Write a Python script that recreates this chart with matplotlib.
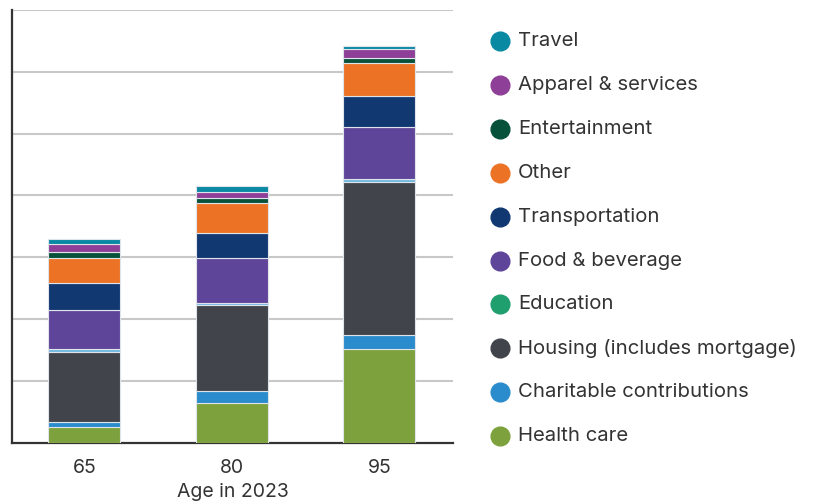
import matplotlib
matplotlib.use("Agg")
import matplotlib.pyplot as plt
import numpy as np

plt.rcParams['font.family'] = ['Inter', 'DejaVu Sans']

ages = ["65", "80", "95"]
categories = ["Health care", "Charitable contributions", "Housing (includes mortgage)",
              "Education", "Food & beverage", "Transportation", "Other",
              "Entertainment", "Apparel & services", "Travel"]
health_care = [2.5, 6.5, 15.1]
charitable = [0.9, 1.8, 2.3]
housing = [11.2, 14.0, 24.8]
education = [0.5, 0.3, 0.4]
food = [6.3, 7.2, 8.5]
transportation = [4.5, 4.05, 5.0]
other = [4.0, 4.9, 5.3]
entertainment = [0.9, 0.9, 0.86]
apparel = [1.3, 0.9, 1.4]
travel = [0.9, 0.9, 0.5]
series = [health_care, charitable, housing, education, food, transportation,
          other, entertainment, apparel, travel]
colors = ["#7da13c", "#2a8ccc", "#41454b", "#1f9e6e", "#5f4599", "#123872",
          "#ec7325", "#07513a", "#8e3f97", "#0a89a3"]
bar_colors = list(colors)
bar_colors[3] = "#6fb8e0"

fig = plt.figure(figsize=(8.13, 5.03), dpi=100)
ax = fig.add_axes([12/813, (503-442.7)/503, (453-12)/813, (442.7-10)/503])

x = np.arange(len(ages))
bottom = np.zeros(len(ages))
for vals, c in zip(series, bar_colors):
    v = np.array(vals)
    ax.bar(x, v, width=0.49, bottom=bottom, color=c, edgecolor="#dfe3ea",
           linewidth=0.8, zorder=3)
    bottom += v

ax.set_xlim(-0.49, 2.5)
ax.set_ylim(0, 70)
ax.set_yticks(np.arange(10, 71, 10))
ax.set_yticklabels([])
ax.tick_params(axis='y', length=0)
ax.tick_params(axis='x', length=0, pad=12, labelsize=14, labelcolor="#333333")
ax.set_xticks(x)
ax.set_xticklabels(ages)
ax.set_xlabel("Age in 2023", fontsize=14, color="#333333", labelpad=4)
ax.grid(axis='y', color="#c8c8c8", linewidth=1.5, zorder=0)
for s in ["top", "right"]:
    ax.spines[s].set_visible(False)
for s in ["left", "bottom"]:
    ax.spines[s].set_color("#333333")
    ax.spines[s].set_linewidth(1.6)

# legend (top to bottom: reverse stacking order)
leg_y = [41, 85, 129, 173, 217, 261, 304, 348, 392, 436]
for i, (lab, c) in enumerate(zip(categories[::-1], colors[::-1])):
    yy = 1 - leg_y[i]/503
    fig.lines.append(plt.Line2D([500/813], [yy], marker='o', markersize=13.5,
                                color=c, linestyle='none', transform=fig.transFigure))
    fig.text(518/813, yy, lab, fontsize=14.6, color="#333333", va='center', ha='left')

fig.savefig("out.png", dpi=100)
